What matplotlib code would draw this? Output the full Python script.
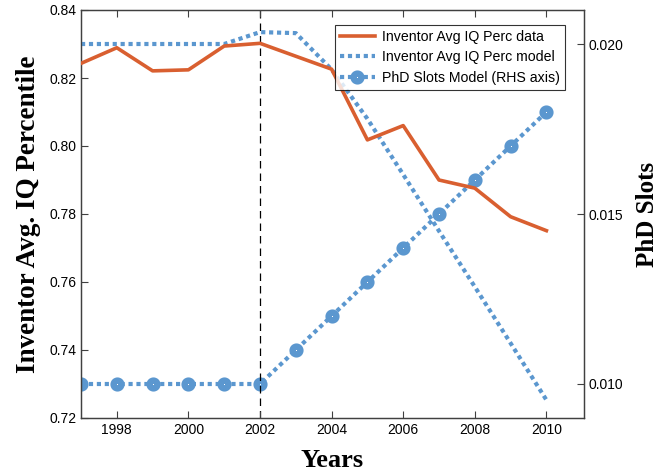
import matplotlib
matplotlib.use("Agg")
import matplotlib.pyplot as plt
from matplotlib.ticker import FormatStrFormatter

years = [1997, 1998, 1999, 2000, 2001, 2002, 2003, 2004, 2005, 2006, 2007, 2008, 2009, 2010]
iq_data = [0.8243, 0.8289, 0.8221, 0.8224, 0.8294, 0.8302, 0.8264, 0.8226,
           0.8018, 0.8060, 0.7900, 0.7876, 0.7792, 0.7751]
iq_model = [0.830, 0.830, 0.830, 0.830, 0.830, 0.8335, 0.8332, 0.8225,
            0.8080, 0.7916, 0.7750, 0.7586, 0.7420, 0.7253]
phd_slots = [0.010, 0.010, 0.010, 0.010, 0.010, 0.010, 0.011, 0.012,
             0.013, 0.014, 0.015, 0.016, 0.017, 0.018]
xticks = [1998, 2000, 2002, 2004, 2006, 2008, 2010]
left_ticks = [0.72, 0.74, 0.76, 0.78, 0.80, 0.82, 0.84]
right_ticks = [0.010, 0.015, 0.020]
break_year = 2002

orange = '#D95F30'
blue = '#5B97CF'
spine_col = '#404040'

plt.rcParams['font.family'] = ['Liberation Sans', 'DejaVu Sans']

fig = plt.figure(figsize=(6.6, 4.76), dpi=100)
ax = fig.add_axes([81/660, 58/476, (584-81)/660, 408/476])
ax2 = ax.twinx()

dot = (0, (1, 0.9))
l1, = ax.plot(years, iq_data, color=orange, lw=2.6, label='Inventor Avg IQ Perc data', zorder=3)
l2, = ax.plot(years, iq_model, color=blue, lw=3.0, linestyle=dot, dash_capstyle='butt',
              label='Inventor Avg IQ Perc model', zorder=2)
l3, = ax2.plot(years, phd_slots, color=blue, lw=3.0, linestyle=dot, dash_capstyle='butt',
               marker='o', markersize=5.6, markerfacecolor='white', markeredgecolor=blue,
               markeredgewidth=4.6, label='PhD Slots Model (RHS axis)')
ax.axvline(break_year, color='black', lw=0.9, linestyle=(0, (6, 4)), zorder=1)

ax.set_xlim(1997, 2011.05)
ax.set_ylim(0.72, 0.84)
ax2.set_ylim(0.009, 0.021)
ax.set_xticks(xticks)
ax.set_yticks(left_ticks)
ax2.set_yticks(right_ticks)
ax.yaxis.set_major_formatter(FormatStrFormatter('%.2f'))
ax2.yaxis.set_major_formatter(FormatStrFormatter('%.3f'))

for a in (ax, ax2):
    a.tick_params(direction='in', length=5, width=0.8, colors='black', labelsize=10,
                  top=(a is ax), color=spine_col)
    for s in a.spines.values():
        s.set_color(spine_col)
        s.set_linewidth(0.9)
ax2.tick_params(axis='y', direction='in', length=5)

serif = ['Liberation Serif', 'DejaVu Serif']
ax.set_xlabel('Years', family=serif, fontweight='bold', fontsize=19, labelpad=9)
ax.set_ylabel('Inventor Avg. IQ Percentile', family=serif, fontweight='bold', fontsize=19.5, labelpad=6)
ax2.set_ylabel('PhD Slots', family=serif, fontweight='bold', fontsize=18, labelpad=9)

ax.set_zorder(ax2.get_zorder() + 1)
ax.patch.set_visible(False)

leg = ax.legend(handles=[l1, l2, l3], loc='upper right', bbox_to_anchor=(0.968, 0.97),
                fontsize=10.2, frameon=True, fancybox=False, edgecolor='black',
                borderpad=0.35, handlelength=2.5, labelspacing=0.45, handletextpad=0.5,
                borderaxespad=0.2)
leg.get_frame().set_linewidth(0.8)

fig.savefig('out.png', dpi=100)
